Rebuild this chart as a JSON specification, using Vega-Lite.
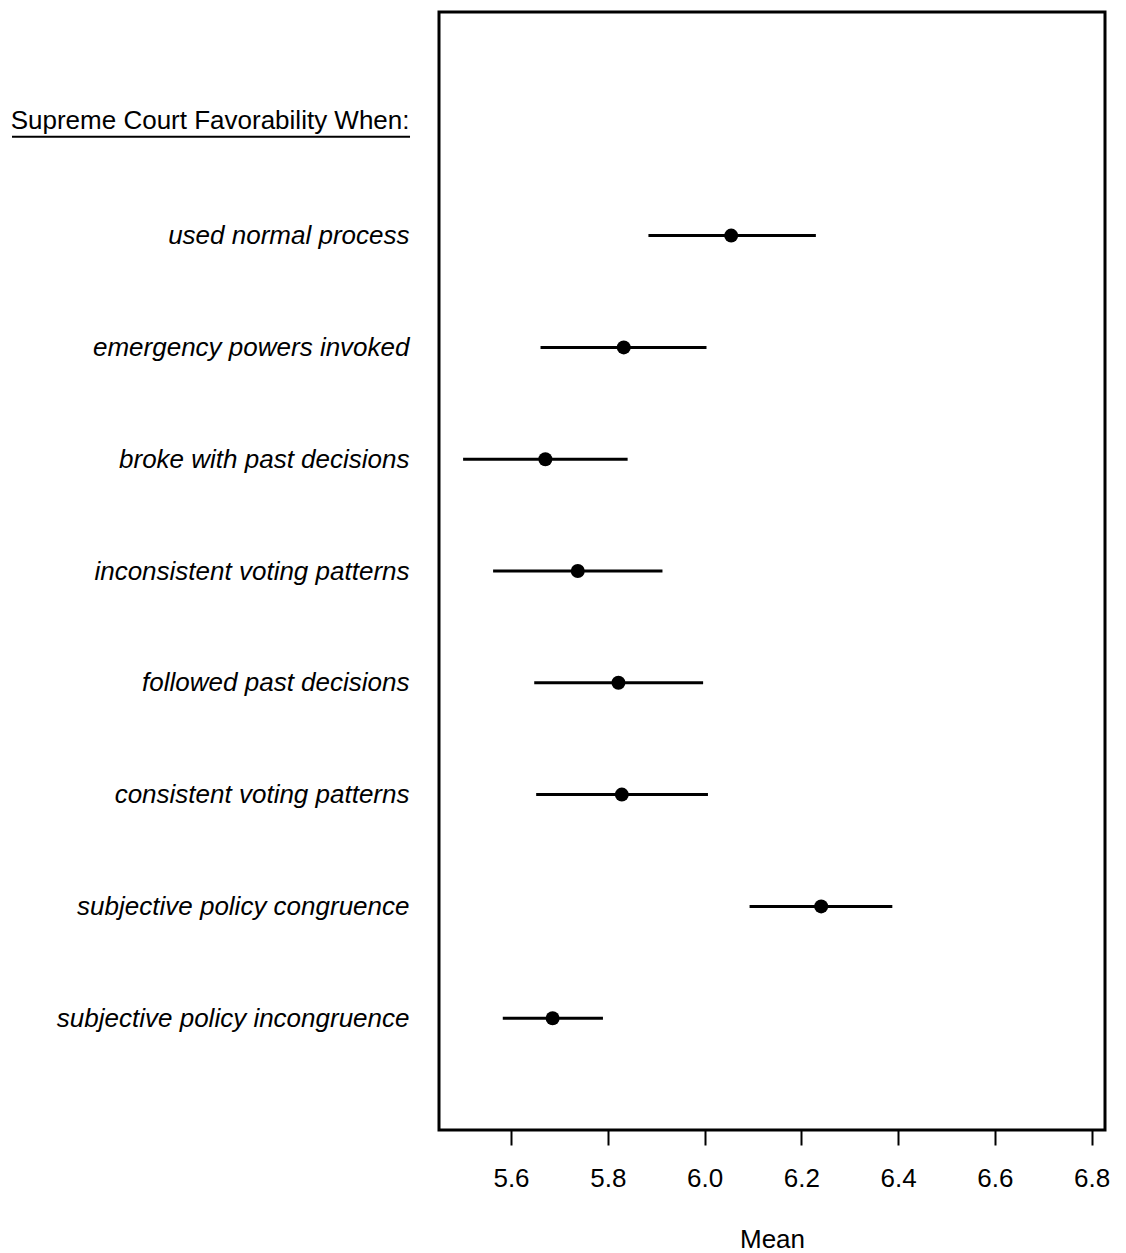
{
  "$schema": "https://vega.github.io/schema/vega-lite/v6.json",
  "autosize": {"type": "none"},
  "padding": {"left": 439, "top": 12, "right": 21, "bottom": 123},
  "width": 666,
  "height": 1118,
  "background": "white",
  "config": {
    "font": "Liberation Sans",
    "view": {"stroke": "black", "strokeWidth": 3}
  },
  "data": {
    "values": [
      {"condition": "used normal process", "mean": 6.055, "lo": 5.884, "hi": 6.230},
      {"condition": "emergency powers invoked", "mean": 5.833, "lo": 5.661, "hi": 6.004},
      {"condition": "broke with past decisions", "mean": 5.671, "lo": 5.501, "hi": 5.841},
      {"condition": "inconsistent voting patterns", "mean": 5.738, "lo": 5.563, "hi": 5.913},
      {"condition": "followed past decisions", "mean": 5.822, "lo": 5.648, "hi": 5.997},
      {"condition": "consistent voting patterns", "mean": 5.829, "lo": 5.652, "hi": 6.007},
      {"condition": "subjective policy congruence", "mean": 6.241, "lo": 6.093, "hi": 6.388},
      {"condition": "subjective policy incongruence", "mean": 5.686, "lo": 5.583, "hi": 5.790}
    ]
  },
  "encoding": {
    "y": {
      "field": "condition",
      "type": "nominal",
      "sort": null,
      "scale": {
        "type": "point",
        "padding": 1,
        "domain": [
          "Supreme Court Favorability When:",
          "used normal process",
          "emergency powers invoked",
          "broke with past decisions",
          "inconsistent voting patterns",
          "followed past decisions",
          "consistent voting patterns",
          "subjective policy congruence",
          "subjective policy incongruence"
        ]
      },
      "axis": {
        "title": null,
        "domain": false,
        "ticks": false,
        "labelPadding": 30,
        "labelFontSize": 26,
        "labelColor": "black",
        "labelLimit": 0,
        "labelFontStyle": {
          "condition": {"test": "datum.value === 'Supreme Court Favorability When:'", "value": "normal"},
          "value": "italic"
        },
        "labelOffset": {
          "condition": {"test": "datum.value === 'Supreme Court Favorability When:'", "value": -3},
          "value": 0
        }
      }
    }
  },
  "layer": [
    {
      "mark": {"type": "rule", "color": "black", "strokeWidth": 3},
      "encoding": {
        "x": {
          "field": "lo",
          "type": "quantitative",
          "scale": {"domain": [5.4512, 6.8275], "nice": false, "zero": false},
          "axis": {
            "title": "Mean",
            "values": [5.6, 5.8, 6.0, 6.2, 6.4, 6.6, 6.8],
            "format": ".1f",
            "grid": false,
            "domain": false,
            "tickSize": 15,
            "tickWidth": 2,
            "tickColor": "black",
            "labelPadding": 20,
            "labelFontSize": 26,
            "labelColor": "black",
            "titleFontSize": 26,
            "titleFontWeight": "normal",
            "titleColor": "black",
            "titlePadding": 35
          }
        },
        "x2": {"field": "hi"}
      }
    },
    {
      "mark": {"type": "point", "shape": "circle", "filled": true, "color": "black", "opacity": 1, "size": 196},
      "encoding": {
        "x": {"field": "mean", "type": "quantitative"}
      }
    },
    {
      "data": {"values": [{"heading": "Supreme Court Favorability When:"}]},
      "mark": {"type": "rule", "color": "black", "strokeWidth": 2, "yOffset": 13},
      "encoding": {
        "y": {"field": "heading", "type": "nominal"},
        "x": {"datum": 4.5688, "type": "quantitative"},
        "x2": {"datum": 5.3913}
      }
    }
  ]
}
